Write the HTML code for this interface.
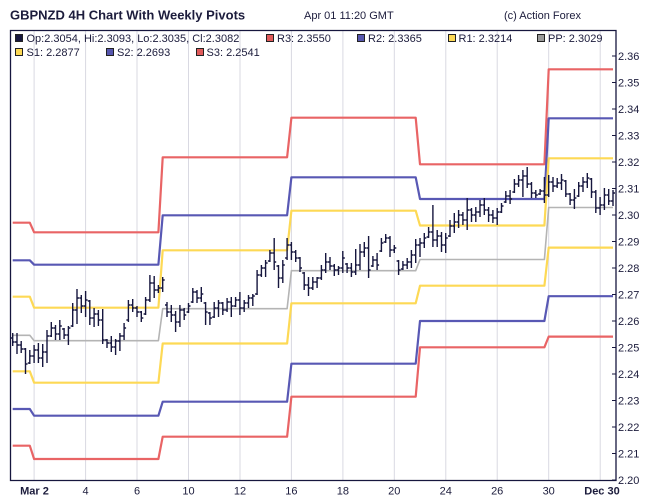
<!DOCTYPE html>
<html><head><meta charset="utf-8"><style>
html,body{margin:0;padding:0;background:#fff;}
svg{display:block;}
text{font-family:"Liberation Sans",Arial,sans-serif;fill:#1c1c3c;}
</style></head><body>
<svg width="650" height="501" viewBox="0 0 650 501" xmlns="http://www.w3.org/2000/svg">
<rect width="650" height="501" fill="#fff"/>
<!-- header -->
<text x="10" y="19.3" font-size="13" font-weight="bold">GBPNZD 4H Chart With Weekly Pivots</text>
<text x="304" y="19" font-size="11">Apr 01 11:20 GMT</text>
<text x="504" y="19" font-size="11">(c) Action Forex</text>
<!-- gridlines -->
<g stroke="#d9d9e2" stroke-width="1">
<path d="M34.1 31V480M85.6 31V480M137 31V480M188.5 31V480M240 31V480M291.4 31V480M342.9 31V480M394.3 31V480M445.8 31V480M497.2 31V480M548.7 31V480M600.2 31V480"/>
</g>
<!-- pivot lines -->
<g fill="none" stroke-linejoin="round">
<path stroke="#e96465" stroke-width="2.2" d="M12.7 222.7H29.8L34.1 232.3H158.4L162.7 157.3H287.1L291.4 117.7H415.7L420 164.3H544.4L548.7 69.3H613"/>
<path stroke="#5858b4" stroke-width="2.2" d="M12.7 260.3H29.8L34.1 264.7H158.4L162.7 215.3H287.1L291.4 177.3H415.7L420 199H544.4L548.7 118.3H613"/>
<path stroke="#fdd955" stroke-width="2.2" d="M12.7 296.7H29.8L34.1 307.7H158.4L162.7 250.3H287.1L291.4 210.7H415.7L420 225.5H544.4L548.7 158.3H613"/>
<path stroke="#b4b4b4" stroke-width="1.6" d="M12.7 335.3H29.8L34.1 340.7H158.4L162.7 308.7H287.1L291.4 270.7H415.7L420 259.5H544.4L548.7 207.5H613"/>
<path stroke="#fdd955" stroke-width="2.2" d="M12.7 371.3H29.8L34.1 382.7H158.4L162.7 343.5H287.1L291.4 303.3H415.7L420 285.7H544.4L548.7 247.6H613"/>
<path stroke="#5858b4" stroke-width="2.2" d="M12.7 409H29.8L34.1 415.7H158.4L162.7 401.7H287.1L291.4 363.7H415.7L420 321H544.4L548.7 296.2H613"/>
<path stroke="#e96465" stroke-width="2.2" d="M12.7 445.7H29.8L34.1 459H158.4L162.7 436.7H287.1L291.4 396.7H415.7L420 347.3H544.4L548.7 336.6H613"/>
</g>
<!-- OHLC bars -->
<path fill="none" stroke="#16163e" stroke-width="1.4" d="
M12.7 333V346M10.7 338h2M12.7 342h2
M17 333V354M15 342h2M17 345h2
M21.2 341V353M19.2 345h2M21.2 349h2
M25.5 348V374M23.5 349h2M25.5 364h2
M29.8 350V364M27.8 363h2M29.8 356h2
M34.1 345V363M32.1 356h2M34.1 350h2
M38.4 343V363M36.4 350h2M38.4 358h2
M42.7 344V367M40.7 358h2M42.7 352h2
M47 330V363M45 352h2M47 336h2
M51.3 322V337M49.3 336h2M51.3 328h2
M55.5 325V340M53.5 328h2M55.5 334h2
M59.8 320V340M57.8 334h2M59.8 326h2
M64.1 328V339M62.1 329h2M64.1 335h2
M68.4 326V345M66.4 335h2M68.4 328h2
M72.7 303V327M70.7 326h2M72.7 310h2
M77 289V324M75 310h2M77 298h2
M81.3 295V313M79.3 298h2M81.3 306h2
M85.6 291V317M83.6 306h2M85.6 300h2
M89.8 300V325M87.8 301h2M89.8 318h2
M94.1 308V327M92.1 318h2M94.1 314h2
M98.4 310V326M96.4 314h2M98.4 320h2
M102.7 309V344M100.7 320h2M102.7 340h2
M107 339V348M105 340h2M107 343h2
M111.3 336V352M109.3 343h2M111.3 347h2
M115.6 339V355M113.6 347h2M115.6 341h2
M119.9 333V351M117.9 341h2M119.9 336h2
M124.1 323V340M122.1 336h2M124.1 328h2
M128.4 300V322M126.4 320h2M128.4 305h2
M132.7 299V312M130.7 305h2M132.7 308h2
M137 306V317M135 308h2M137 312h2
M141.3 311V322M139.3 312h2M141.3 318h2
M145.6 297V315M143.6 314h2M145.6 300h2
M149.9 275V302M147.9 300h2M149.9 283h2
M154.2 276V298M152.2 283h2M154.2 290h2
M158.4 285V293M156.4 290h2M158.4 288h2
M162.7 277V292M160.7 288h2M162.7 280h2
M167 302V317M165 305h2M167 312h2
M171.3 305V322M169.3 312h2M171.3 315h2
M175.6 311V332M173.6 315h2M175.6 322h2
M179.9 305V327M177.9 322h2M179.9 310h2
M184.2 308V320M182.2 310h2M184.2 315h2
M188.5 303V313M186.5 312h2M188.5 306h2
M192.8 288V303M190.8 302h2M192.8 292h2
M197 290V303M195 292h2M197 298h2
M201.3 287V302M199.3 298h2M201.3 294h2
M205.6 302V325M203.6 303h2M205.6 312h2
M209.9 312V325M207.9 313h2M209.9 318h2
M214.2 302V318M212.2 317h2M214.2 308h2
M218.5 300V317M216.5 308h2M218.5 303h2
M222.8 302V315M220.8 303h2M222.8 310h2
M227.1 298V312M225.1 310h2M227.1 302h2
M231.3 297V317M229.3 302h2M231.3 306h2
M235.6 297V307M233.6 306h2M235.6 300h2
M239.9 292V315M237.9 300h2M239.9 308h2
M244.2 300V312M242.2 308h2M244.2 303h2
M248.5 295V308M246.5 303h2M248.5 298h2
M252.8 294V306M250.8 298h2M252.8 296h2
M257.1 270V295M255.1 294h2M257.1 275h2
M261.4 265V277M259.4 275h2M261.4 268h2
M265.6 260V277M263.6 268h2M265.6 263h2
M269.9 250V262M267.9 261h2M269.9 253h2
M274.2 238V270M272.2 253h2M274.2 262h2
M278.5 265V288M276.5 266h2M278.5 278h2
M282.8 260V283M280.8 278h2M282.8 265h2
M287.1 238V260M285.1 258h2M287.1 245h2
M291.4 242V260M289.4 245h2M291.4 252h2
M295.7 250V262M293.7 252h2M295.7 258h2
M300 257V272M298 258h2M300 268h2
M304.2 272V290M302.2 273h2M304.2 285h2
M308.5 277V296M306.5 285h2M308.5 288h2
M312.8 277V290M310.8 288h2M312.8 282h2
M317.1 277V288M315.1 282h2M317.1 278h2
M321.4 265V280M319.4 278h2M321.4 270h2
M325.7 253V273M323.7 270h2M325.7 262h2
M330 257V270M328 262h2M330 266h2
M334.3 264V276M332.3 266h2M334.3 270h2
M338.5 266V275M336.5 270h2M338.5 268h2
M342.8 251V273M340.8 268h2M342.8 258h2
M347.1 263V273M345.1 264h2M347.1 268h2
M351.4 263V277M349.4 268h2M351.4 272h2
M355.7 249V275M353.7 272h2M355.7 265h2
M360 244V270M358 265h2M360 252h2
M364.3 242V257M362.3 252h2M364.3 248h2
M368.6 236V278M366.6 248h2M368.6 270h2
M372.9 256V267M370.9 266h2M372.9 260h2
M377.1 253V270M375.1 260h2M377.1 265h2
M381.4 238V252M379.4 251h2M381.4 243h2
M385.7 234V243M383.7 242h2M385.7 238h2
M390 236V257M388 238h2M390 250h2
M394.3 245V253M392.3 250h2M394.3 248h2
M398.6 260V275M396.6 261h2M398.6 270h2
M402.9 261V270M400.9 269h2M402.9 265h2
M407.2 258V269M405.2 265h2M407.2 262h2
M411.4 250V268M409.4 262h2M411.4 255h2
M415.7 239V263M413.7 255h2M415.7 245h2
M420 238V257M418 245h2M420 243h2
M424.3 233V248M422.3 243h2M424.3 238h2
M428.6 227V238M426.6 237h2M428.6 232h2
M432.9 205V247M430.9 232h2M432.9 240h2
M437.2 230V247M435.2 240h2M437.2 236h2
M441.5 232V252M439.5 236h2M441.5 245h2
M445.7 233V253M443.7 245h2M445.7 238h2
M450 220V237M448 236h2M450 226h2
M454.3 213V233M452.3 226h2M454.3 222h2
M458.6 210V228M456.6 222h2M458.6 215h2
M462.9 212V225M460.9 215h2M462.9 220h2
M467.2 198V230M465.2 220h2M467.2 210h2
M471.5 208V222M469.5 210h2M471.5 215h2
M475.8 207V222M473.8 215h2M475.8 212h2
M480 200V217M478 212h2M480 205h2
M484.3 198V215M482.3 205h2M484.3 210h2
M488.6 207V222M486.6 210h2M488.6 215h2
M492.9 210V223M490.9 215h2M492.9 218h2
M497.2 208V225M495.2 218h2M497.2 212h2
M501.5 203V213M499.5 212h2M501.5 206h2
M505.8 191V203M503.8 202h2M505.8 196h2
M510.1 190V204M508.1 196h2M510.1 199h2
M514.4 179V193M512.4 192h2M514.4 184h2
M518.6 175V187M516.6 184h2M518.6 180h2
M522.9 170V197M520.9 180h2M522.9 176h2
M527.2 167V188M525.2 176h2M527.2 184h2
M531.5 182V198M529.5 184h2M531.5 193h2
M535.8 190V198M533.8 193h2M535.8 195h2
M540.1 189V195M538.1 194h2M540.1 191h2
M544.4 177V203M542.4 191h2M544.4 195h2
M548.7 175V197M546.7 195h2M548.7 182h2
M553 177V192M551 182h2M553 186h2
M557.2 178V188M555.2 186h2M557.2 183h2
M561.5 174V190M559.5 183h2M561.5 180h2
M565.8 180V197M563.8 181h2M565.8 194h2
M570.1 193V205M568.1 194h2M570.1 200h2
M574.4 189V209M572.4 200h2M574.4 198h2
M578.7 182V197M576.7 196h2M578.7 186h2
M583 177V192M581 186h2M583 182h2
M587.3 173V188M585.3 182h2M587.3 178h2
M591.5 178V198M589.5 179h2M591.5 192h2
M595.8 190V213M593.8 192h2M595.8 208h2
M600.1 197V215M598.1 208h2M600.1 205h2
M604.4 188V210M602.4 205h2M604.4 195h2
M608.7 189V205M606.7 195h2M608.7 201h2
M613 190V206M611 201h2M613 193h2"/>
<!-- frame -->
<path fill="none" stroke="#16163e" stroke-width="1.3" d="M10.5 30.5H616V480.5H10.5Z"/>
<!-- y ticks -->
<path stroke="#16163e" stroke-width="1" d="M612 480H616M612 453.5H616M612 427H616M612 400.5H616M612 374H616M612 347.5H616M612 321H616M612 294.5H616M612 268H616M612 241.5H616M612 215H616M612 188.5H616M612 162H616M612 135.5H616M612 109H616M612 82.5H616M612 56H616"/>
<g font-size="11">
<text x="618" y="484">2.20</text>
<text x="618" y="457.5">2.21</text>
<text x="618" y="431">2.22</text>
<text x="618" y="404.5">2.23</text>
<text x="618" y="378">2.24</text>
<text x="618" y="351.5">2.25</text>
<text x="618" y="325">2.26</text>
<text x="618" y="298.5">2.27</text>
<text x="618" y="272">2.28</text>
<text x="618" y="245.5">2.29</text>
<text x="618" y="219">2.30</text>
<text x="618" y="192.5">2.31</text>
<text x="618" y="166">2.32</text>
<text x="618" y="139.5">2.33</text>
<text x="618" y="113">2.34</text>
<text x="618" y="86.5">2.35</text>
<text x="618" y="60">2.36</text>
</g>
<!-- x labels -->
<g font-size="11" text-anchor="middle">
<text x="34.5" y="494.5" font-weight="bold">Mar 2</text>
<text x="85.6" y="494.5">4</text>
<text x="137" y="494.5">6</text>
<text x="188.5" y="494.5">10</text>
<text x="240" y="494.5">12</text>
<text x="291.4" y="494.5">16</text>
<text x="342.9" y="494.5">18</text>
<text x="394.3" y="494.5">20</text>
<text x="445.8" y="494.5">24</text>
<text x="497.2" y="494.5">26</text>
<text x="548.7" y="494.5">30</text>
<text x="602" y="494.5" font-weight="bold">Dec 30</text>
</g>
<!-- legend -->
<g stroke="#222" stroke-width="1">
<rect x="15.5" y="34.5" width="7" height="7" fill="#16163e"/>
<rect x="266.5" y="34.5" width="7" height="7" fill="#e05a5a"/>
<rect x="357.5" y="34.5" width="7" height="7" fill="#5656ae"/>
<rect x="448.5" y="34.5" width="7" height="7" fill="#fdd955"/>
<rect x="537.5" y="34.5" width="7" height="7" fill="#9a9a9a"/>
<rect x="15.5" y="48.5" width="7" height="7" fill="#fdd955"/>
<rect x="106.5" y="48.5" width="7" height="7" fill="#5656ae"/>
<rect x="196.5" y="48.5" width="7" height="7" fill="#e05a5a"/>
</g>
<g font-size="11">
<text x="26.5" y="41.8">Op:2.3054, Hi:2.3093, Lo:2.3035, Cl:2.3082</text>
<text x="277" y="41.8">R3: 2.3550</text>
<text x="368" y="41.8">R2: 2.3365</text>
<text x="458.5" y="41.8">R1: 2.3214</text>
<text x="548" y="41.8">PP: 2.3029</text>
<text x="26.5" y="55.8">S1: 2.2877</text>
<text x="117" y="55.8">S2: 2.2693</text>
<text x="206.5" y="55.8">S3: 2.2541</text>
</g>
</svg>
</body></html>
